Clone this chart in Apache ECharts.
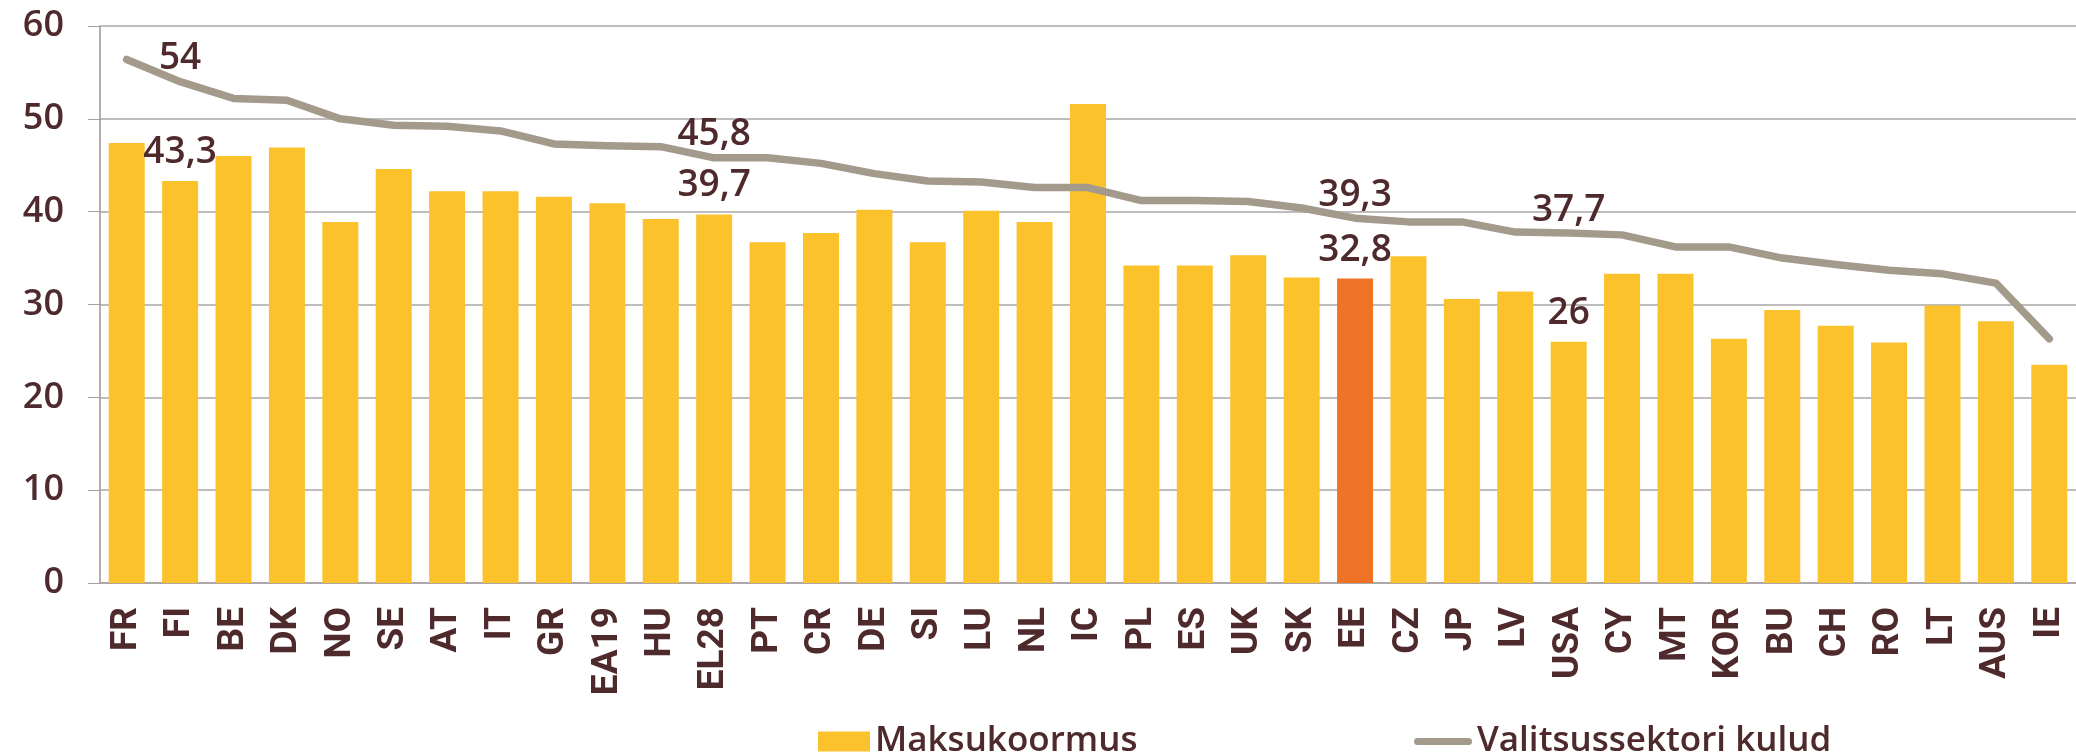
<!DOCTYPE html>
<html lang="et">
<head>
    <meta charset="UTF-8">
    <title>Maksukoormus ja valitsussektori kulud</title>
    <script src="https://cdn.jsdelivr.net/npm/echarts@6/dist/echarts.min.js"></script>
    <style>
        html, body { margin: 0; padding: 0; background: #fff; }
        #box { width: 2076px; height: 754px; }
    </style>
</head>
<body>
<div id="box"></div>
<script>
    // riigid
    var categories = ['FR', 'FI', 'BE', 'DK', 'NO', 'SE', 'AT', 'IT', 'GR', 'EA19', 'HU', 'EL28', 'PT', 'CR', 'DE', 'SI', 'LU', 'NL', 'IC',
        'PL', 'ES', 'UK', 'SK', 'EE', 'CZ', 'JP', 'LV', 'USA', 'CY', 'MT', 'KOR', 'BU', 'CH', 'RO', 'LT', 'AUS', 'IE'];
    // maksukoormus, % SKP-st
    var taxBurden = [47.4, 43.3, 46.0, 46.9, 38.9, 44.6, 42.2, 42.2, 41.6, 40.9, 39.2, 39.7, 36.7, 37.7, 40.2, 36.7, 40.1, 38.9, 51.6,
        34.2, 34.2, 35.3, 32.9, 32.8, 35.2, 30.6, 31.4, 26.0, 33.3, 33.3, 26.3, 29.4, 27.7, 25.9, 29.9, 28.2, 23.5];
    // valitsussektori kulud, % SKP-st
    var govSpending = [56.4, 54.0, 52.2, 52.0, 50.0, 49.3, 49.2, 48.7, 47.3, 47.1, 47.0, 45.8, 45.8, 45.2, 44.1, 43.3, 43.2, 42.6, 42.6,
        41.2, 41.2, 41.1, 40.4, 39.3, 38.9, 38.9, 37.8, 37.7, 37.5, 36.2, 36.2, 35.0, 34.3, 33.7, 33.3, 32.3, 26.3];
    var yTicks = [0, 10, 20, 30, 40, 50, 60];
    // väärtusega märgitud riigid ja esiletõstetud riik
    var labeled = ['FI', 'EL28', 'EE', 'USA'];
    var highlight = 'EE';

    var textColor = '#4e2a2c';
    var labelFont = 'Open Sans';
    var fmt = function (p) { return String(p.value).replace('.', ','); };

    var barData = taxBurden.map(function (v, i) {
        var item = {value: v};
        if (categories[i] === highlight) item.itemStyle = {color: '#ee7326'};
        if (labeled.indexOf(categories[i]) >= 0) item.label = {show: true};
        return item;
    });
    var lineData = govSpending.map(function (v, i) {
        var item = {value: v};
        if (labeled.indexOf(categories[i]) >= 0) item.label = {show: true};
        return item;
    });

    var myChart = echarts.init(document.getElementById('box'));
    var option = {
        animation: false,
        grid: {left: 100, top: 26, width: 1978, height: 557},
        legend: [{
            data: [{name: 'Maksukoormus', icon: 'rect'}],
            left: 813, top: 719,
            itemWidth: 52, itemHeight: 20,
            textStyle: {color: textColor, fontFamily: labelFont, fontWeight: 600, fontSize: 35}
        }, {
            // pikk ümarate otstega joon
            data: [{name: 'Valitsussektori kulud', icon: 'path://M3.5,0 h51 a3.5,3.5 0 0 1 0,7 h-51 a3.5,3.5 0 0 1 0,-7 z'}],
            left: 1409, top: 719,
            itemWidth: 58, itemHeight: 20,
            textStyle: {color: textColor, fontFamily: labelFont, fontWeight: 600, fontSize: 35}
        }],
        xAxis: {
            type: 'category',
            data: categories,
            axisLine: {lineStyle: {color: '#a8a0a0', width: 1.5}},
            axisTick: {length: 12, lineStyle: {color: '#a8a0a0'}},
            axisLabel: {
                rotate: 90, margin: 24, interval: 0,
                color: textColor, fontFamily: 'Roboto', fontWeight: 'bold', fontSize: 37
            }
        },
        yAxis: {
            type: 'value',
            min: yTicks[0], max: yTicks[yTicks.length - 1], interval: 10,
            axisLine: {show: true, lineStyle: {color: '#a09292', width: 1.5}},
            axisTick: {show: true, length: 12, lineStyle: {color: '#a8a0a0'}},
            splitLine: {lineStyle: {color: '#a8a6a6', width: 1.5}},
            axisLabel: {margin: 36, color: textColor, fontFamily: labelFont, fontWeight: 600, fontSize: 36}
        },
        series: [{
            name: 'Maksukoormus',
            type: 'bar',
            data: barData,
            barWidth: 36,
            itemStyle: {color: '#fbc22c'},
            label: {
                show: false, position: 'top', distance: 10, formatter: fmt,
                color: textColor, fontFamily: labelFont, fontWeight: 600, fontSize: 37
            }
        }, {
            name: 'Valitsussektori kulud',
            type: 'line',
            data: lineData,
            symbol: 'circle',
            symbolSize: 1,
            lineStyle: {color: '#a39a8c', width: 7.5, cap: 'round', join: 'round'},
            itemStyle: {color: '#a39a8c'},
            label: {
                show: false, position: 'top', distance: 4, formatter: fmt,
                color: textColor, fontFamily: labelFont, fontWeight: 600, fontSize: 37
            }
        }]
    };
    myChart.setOption(option);
</script>
</body>
</html>
